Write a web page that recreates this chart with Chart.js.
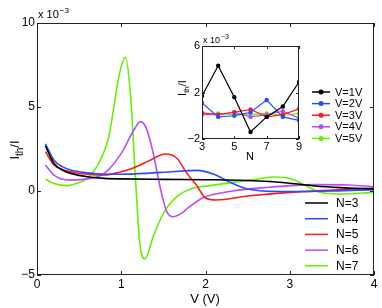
<!DOCTYPE html>
<html>
<head>
<meta charset="utf-8">
<script src="https://cdn.jsdelivr.net/npm/chart.js@4/dist/chart.umd.min.js"></script>
<style>
  body { margin: 0; background: #fff; }
  #wrap { position: relative; width: 382px; height: 308px; }
  canvas { position: absolute; left: 0; top: 0; }
  #inset { pointer-events: none; }
</style>
</head>
<body>
<div id="wrap">
  <canvas id="mainChart" width="382" height="308"></canvas>
  <canvas id="inset" width="382" height="308"></canvas>
</div>
<script>
// main panel: I_th/I (x 1e-3) vs bias V, one curve per chain length N
const seriesNames = ["N=3", "N=4", "N=5", "N=6", "N=7"];
const seriesColors = ["#000000", "#2a4cff", "#ff1a1a", "#b84cff", "#66f000"];

const vN3 = [0.1, 0.2, 0.3, 0.4, 0.6, 0.8, 1.0, 1.5, 2.0, 2.4, 2.7, 3.0, 3.3, 3.6, 4.0];
const iN3 = [2.68, 1.65, 1.25, 1.05, 0.85, 0.75, 0.72, 0.69, 0.67, 0.64, 0.58, 0.46, 0.3, 0.2, 0.12];

const vN4 = [0.1, 0.2, 0.3, 0.4, 0.6, 0.8, 1.0, 1.3, 1.6, 1.9, 2.1, 2.3, 2.5, 2.9, 3.5, 4.0];
const iN4 = [2.8, 1.85, 1.45, 1.25, 1.08, 1.0, 1.0, 1.05, 1.15, 1.23, 1.0, 0.5, 0.12, -0.03, 0.0, 0.08];

const vN5 = [0.1, 0.2, 0.3, 0.4, 0.6, 0.8, 1.0, 1.15, 1.35, 1.52, 1.66, 1.78, 1.9, 2.0, 2.13, 2.5, 3.0, 3.5, 4.0];
const iN5 = [2.34, 1.55, 1.28, 1.15, 1.0, 0.95, 1.15, 1.38, 1.85, 2.2, 1.95, 1.05, 0.3, -0.42, -0.54, -0.3, -0.08, 0.05, 0.18];

const vN6 = [0.1, 0.2, 0.4, 0.63, 0.8, 1.0, 1.15, 1.23, 1.3, 1.38, 1.46, 1.54, 1.62, 1.7, 1.8, 1.97, 2.3, 2.7, 3.3, 3.7, 4.0];
const iN6 = [1.55, 0.95, 0.65, 0.75, 1.05, 2.24, 3.63, 4.13, 3.7, 2.24, 0.26, -1.23, -1.53, -1.38, -0.98, -0.4, -0.02, 0.2, 0.38, 0.36, 0.26];

const vN7 = [0.1, 0.2, 0.36, 0.5, 0.6, 0.71, 0.85, 0.98, 1.05, 1.11, 1.17, 1.22, 1.28, 1.38, 1.5, 1.66, 1.85, 2.05, 2.3, 2.55, 2.8, 3.0, 3.2, 3.36, 3.6, 4.0];
const iN7 = [0.7, 0.45, 0.32, 0.5, 0.77, 1.45, 3.2, 7.0, 7.96, 5.7, 0.65, -3.1, -4.05, -2.7, -1.33, -0.34, 0.16, 0.32, 0.5, 0.66, 0.83, 0.74, 0.3, -0.08, -0.18, -0.08];

const xTicks = [0, 1, 2, 3, 4];
const yTicks = [-5, 0, 5, 10];

// inset: I_th/I (x 1e-3) vs N at fixed V
const insetN = [3, 4, 5, 6, 7, 8, 9];
const insetNames = ["V=1V", "V=2V", "V=3V", "V=4V", "V=5V"];
const insetV1 = [1.7, 4.3, 1.6, -1.4, -0.1, 0.8, 2.9];
const insetV2 = [1.1, -0.1, 0.0, 0.3, 1.35, -0.1, -0.4];
const insetV3 = [0.25, 0.1, 0.3, 0.55, -0.1, 0.1, 0.6];
const insetV4 = [0.1, 0.1, 0.3, -0.1, 0.1, 0.4, -0.2];
const insetV5 = [0.1, 0.2, 0.1, 0.1, 0.2, 0.0, 0.2];
const insetXTicks = [3, 5, 7, 9];
const insetYTicks = [-2, 2, 6];

const FONT = "'Liberation Sans', Arial, sans-serif";

function pts(xs, ys) {
    return xs.map((x, i) => ({ x: x, y: ys[i] }));
}
function fmt(v) {
    return v < 0 ? "\u2212" + Math.abs(v) : String(v);
}

// draws the box, inward ticks, labels and legend like the matlab figure
function framePlugin(cfg) {
    return {
        id: "frame",
        afterDraw(chart) {
            const c = chart.ctx;
            const a = chart.chartArea;
            const xs = chart.scales.x, ys = chart.scales.y;
            c.save();
            c.strokeStyle = "#222";
            c.lineWidth = 1;
            c.strokeRect(a.left + 0.5, a.top + 0.5, a.right - a.left - 1, a.bottom - a.top - 1);
            c.beginPath();
            cfg.xTicks.forEach(t => {
                const p = Math.round(xs.getPixelForValue(t)) + 0.5;
                c.moveTo(p, a.bottom); c.lineTo(p, a.bottom - cfg.tick);
                c.moveTo(p, a.top); c.lineTo(p, a.top + cfg.tick);
            });
            cfg.yTicks.forEach(t => {
                const p = Math.round(ys.getPixelForValue(t)) + 0.5;
                c.moveTo(a.left, p); c.lineTo(a.left + cfg.tick, p);
                c.moveTo(a.right, p); c.lineTo(a.right - cfg.tick, p);
            });
            c.stroke();

            c.fillStyle = "#000";
            // exponent note above axis
            c.font = cfg.font + "px " + FONT;
            c.textBaseline = "alphabetic";
            c.textAlign = "left";
            c.fillText("x 10", cfg.expX, cfg.expY);
            const w = c.measureText("x 10").width;
            c.font = Math.round(cfg.font * 0.75) + "px " + FONT;
            c.fillText("\u22123", cfg.expX + w + 1, cfg.expY - cfg.font * 0.45);

            // y title I_th/I
            c.save();
            c.translate(cfg.ylabX, cfg.ylabY);
            c.rotate(-Math.PI / 2);
            c.font = cfg.labFont + "px " + FONT;
            const wI = c.measureText("I").width;
            c.font = Math.round(cfg.labFont * 0.75) + "px " + FONT;
            const wth = c.measureText("th").width;
            c.font = cfg.labFont + "px " + FONT;
            const wSl = c.measureText("/I").width;
            let x0 = -(wI + wth + wSl) / 2;
            c.textAlign = "left";
            c.fillText("I", x0, 0);
            c.font = Math.round(cfg.labFont * 0.75) + "px " + FONT;
            c.fillText("th", x0 + wI, cfg.labFont * 0.3);
            c.font = cfg.labFont + "px " + FONT;
            c.fillText("/I", x0 + wI + wth, 0);
            c.restore();

            // x title
            c.font = cfg.labFont + "px " + FONT;
            c.textAlign = "center";
            c.textBaseline = "middle";
            c.fillText(cfg.xTitle, cfg.xlabX, cfg.xlabY);

            // legend
            c.textAlign = "left";
            c.font = cfg.legFont + "px " + FONT;
            chart.data.datasets.forEach((ds, i) => {
                const y = cfg.legY + i * cfg.legStep;
                c.strokeStyle = ds.borderColor;
                c.lineWidth = 1.5;
                c.beginPath();
                c.moveTo(cfg.legX, y); c.lineTo(cfg.legX + cfg.legLen, y);
                c.stroke();
                if (cfg.legMarker) {
                    c.fillStyle = ds.borderColor;
                    c.beginPath();
                    c.arc(cfg.legX + cfg.legLen / 2, y, 2.5, 0, Math.PI * 2);
                    c.fill();
                }
                c.fillStyle = "#000";
                c.fillText(ds.label, cfg.legX + cfg.legLen + cfg.legGap, y + 0.5);
            });
            c.restore();
        }
    };
}

const mainSeries = [[vN3, iN3], [vN4, iN4], [vN5, iN5], [vN6, iN6], [vN7, iN7]];

new Chart(document.getElementById("mainChart"), {
    type: "line",
    data: {
        datasets: mainSeries.map((s, i) => ({
            label: seriesNames[i],
            data: pts(s[0], s[1]),
            borderColor: seriesColors[i],
            borderWidth: 1.6,
            pointRadius: 0,
            cubicInterpolationMode: "monotone",
            fill: false
        }))
    },
    options: {
        responsive: false,
        animation: false,
        devicePixelRatio: 1,
        layout: { padding: { top: 23, right: 8, left: 0, bottom: 0 } },
        plugins: { legend: { display: false }, tooltip: { enabled: false } },
        scales: {
            x: {
                type: "linear", min: 0, max: 4,
                afterFit(s) { s.height = 33; },
                afterBuildTicks(s) { s.ticks = xTicks.map(v => ({ value: v })); },
                grid: { display: false, drawTicks: false }, border: { display: false },
                ticks: { color: "#000", font: { family: FONT, size: 12 }, padding: 2, maxRotation: 0, autoSkip: false, callback: fmt }
            },
            y: {
                type: "linear", min: -5, max: 10,
                afterFit(s) { s.width = 37; },
                afterBuildTicks(s) { s.ticks = yTicks.map(v => ({ value: v })); },
                grid: { display: false, drawTicks: false }, border: { display: false },
                ticks: { color: "#000", font: { family: FONT, size: 12 }, padding: 2, autoSkip: false, callback: fmt }
            }
        }
    },
    plugins: [framePlugin({
        xTicks: xTicks, yTicks: yTicks, tick: 4, font: 11,
        expX: 38, expY: 18, labFont: 13,
        ylabX: 19, ylabY: 150, xTitle: "V (V)", xlabX: 205, xlabY: 299,
        legX: 305, legY: 203, legStep: 15.7, legLen: 23, legGap: 8, legFont: 12, legMarker: false
    })]
});

const insetSeries = [insetV1, insetV2, insetV3, insetV4, insetV5];

new Chart(document.getElementById("inset"), {
    type: "line",
    data: {
        datasets: insetSeries.map((s, i) => ({
            label: insetNames[i],
            data: pts(insetN, s),
            borderColor: seriesColors[i],
            backgroundColor: seriesColors[i],
            borderWidth: 1.2,
            pointRadius: 2.2,
            pointBorderWidth: 0,
            tension: 0,
            fill: false
        }))
    },
    options: {
        responsive: false,
        animation: false,
        devicePixelRatio: 1,
        layout: { padding: { top: 46, right: 83, left: 182, bottom: 154 } },
        plugins: { legend: { display: false }, tooltip: { enabled: false } },
        scales: {
            x: {
                type: "linear", min: 3, max: 9,
                afterFit(s) { s.height = 15; },
                afterBuildTicks(s) { s.ticks = insetXTicks.map(v => ({ value: v })); },
                grid: { display: false, drawTicks: false }, border: { display: false },
                ticks: { color: "#000", font: { family: FONT, size: 11 }, padding: 1, maxRotation: 0, autoSkip: false, callback: fmt }
            },
            y: {
                type: "linear", min: -2, max: 6,
                afterFit(s) { s.width = 20; },
                afterBuildTicks(s) { s.ticks = insetYTicks.map(v => ({ value: v })); },
                grid: { display: false, drawTicks: false }, border: { display: false },
                ticks: { color: "#000", font: { family: FONT, size: 11 }, padding: 2, autoSkip: false, callback: fmt }
            }
        }
    },
    plugins: [framePlugin({
        xTicks: insetXTicks, yTicks: insetYTicks, tick: 3, font: 9,
        expX: 203, expY: 43, labFont: 11,
        ylabX: 186, ylabY: 88, xTitle: "N", xlabX: 250, xlabY: 157,
        legX: 312, legY: 92, legStep: 11.6, legLen: 18, legGap: 5, legFont: 11, legMarker: true
    })]
});
</script>
</body>
</html>
